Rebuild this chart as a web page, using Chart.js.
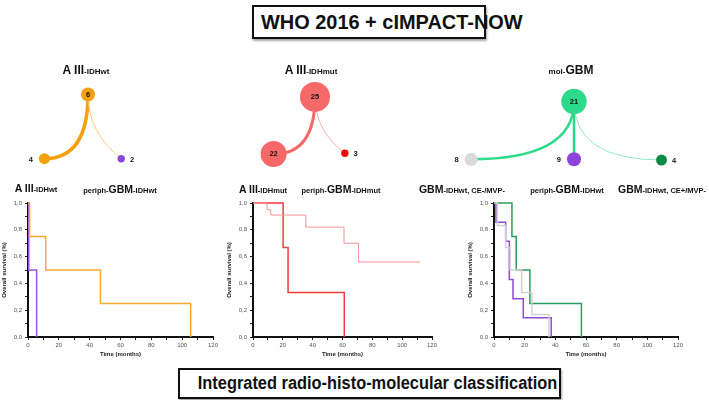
<!DOCTYPE html>
<html lang="en">
<head>
<meta charset="UTF-8">
<title>WHO 2016 + cIMPACT-NOW</title>
<script src="https://cdn.jsdelivr.net/npm/chart.js@4.4.0/dist/chart.umd.min.js"></script>
<style>
    body {
        margin: 0;
        width: 709px;
        height: 400px;
        position: relative;
        overflow: hidden;
        background: #fff;
        font-family: "Liberation Sans", Arial, sans-serif;
        color: #111;
    }
    canvas { position: absolute; }
    .box {
        position: absolute;
        box-sizing: border-box;
        border: 2px solid #111;
        box-shadow: 1px 2px 2px rgba(0,0,0,0.35);
        font-weight: bold;
        text-align: center;
        white-space: nowrap;
        font-family: "Liberation Sans Narrow", "Arial Narrow", "Liberation Sans", sans-serif;
    }
    .box span { display: inline-block; }
    #topBox { left: 252px; top: 5px; width: 234px; height: 34px; font-size: 21px; line-height: 30px; }
    #topBox span { transform: scaleX(0.95); }
    #bottomBox { left: 178px; top: 368px; width: 383px; height: 31px; font-size: 18px; line-height: 27px; }
    #bottomBox span { transform: scaleX(0.91); }
    .lbl {
        position: absolute;
        transform: translate(-50%, -50%);
        white-space: nowrap;
        font-weight: bold;
        z-index: 5;
    }
    .lbl b { font-size: 12px; }
    .lbl span { font-size: 8px; }
    .sub b { font-size: 10.5px; }
    .sub span { font-size: 7.5px; }
</style>
</head>
<body>

<div class="box" id="topBox"><span>WHO 2016 + cIMPACT-NOW</span></div>

<div class="lbl" style="left:86px;top:69px"><b>A III</b><span>-IDHwt</span></div>
<div class="lbl" style="left:311px;top:69px"><b>A III</b><span>-IDHmut</span></div>
<div class="lbl" style="left:571px;top:69px"><span>mol-</span><b>GBM</b></div>

<div class="lbl sub" style="left:36px;top:187px"><b>A III</b><span>-IDHwt</span></div>
<div class="lbl sub" style="left:120px;top:188px"><span>periph-</span><b>GBM</b><span>-IDHwt</span></div>
<div class="lbl sub" style="left:263px;top:188px"><b>A III</b><span>-IDHmut</span></div>
<div class="lbl sub" style="left:341px;top:188px"><span>periph-</span><b>GBM</b><span>-IDHmut</span></div>
<div class="lbl sub" style="left:462px;top:188px"><b>GBM</b><span>-IDHwt, CE-/MVP-</span></div>
<div class="lbl sub" style="left:567px;top:188px"><span>periph-</span><b>GBM</b><span>-IDHwt</span></div>
<div class="lbl sub" style="left:662px;top:188px"><b>GBM</b><span>-IDHwt, CE+/MVP-</span></div>

<canvas id="net1" width="260" height="145" style="left:-42px;top:55px"></canvas>
<canvas id="net2" width="260" height="145" style="left:185px;top:55px"></canvas>
<canvas id="net3" width="260" height="145" style="left:444px;top:55px"></canvas>

<canvas id="km1" width="223" height="165" style="left:0px;top:196px"></canvas>
<canvas id="km2" width="217" height="165" style="left:225px;top:196px"></canvas>
<canvas id="km3" width="222" height="165" style="left:466px;top:196px"></canvas>

<div class="box" id="bottomBox"><span>Integrated radio-histo-molecular classification</span></div>

<script>
// axis ticks
const monthLabels = [0, 20, 40, 60, 80, 100, 120];
const survivalLabels = ['0,0', '0,2', '0,4', '0,6', '0,8', '1,0'];

// Kaplan-Meier steps: time in months, survival fraction after the step
const aIIIwtTime = [0, 1, 11.5, 47, 105.5];
const aIIIwtSurv = [1, 0.75, 0.5, 0.25, 0];
const periphWt1Time = [0, 0.5, 5.6];
const periphWt1Surv = [1, 0.5, 0];

const aIIImutTime = [0, 9.4, 11.9, 35.4, 61, 70.7, 112];
const aIIImutSurv = [1, 0.95, 0.91, 0.82, 0.70, 0.56, 0.56];
const periphMutTime = [0, 20.2, 23.5, 61.2];
const periphMutSurv = [1, 0.667, 0.333, 0];

const ceNegTime = [0, 2.2, 7.6, 10.5, 18, 24.7, 35.8];
const ceNegSurv = [1, 0.833, 0.667, 0.5, 0.333, 0.167, 0];
const periphWt3Time = [0, 1.3, 7.6, 10, 12.4, 19.1, 37.3];
const periphWt3Surv = [1, 0.857, 0.714, 0.429, 0.286, 0.143, 0];
const cePosTime = [0, 11.7, 14.5, 23.4, 57];
const cePosSurv = [1, 0.75, 0.5, 0.25, 0];

// patient counts per node (first one is the parent group)
const net1Counts = [6, 4, 2];
const net2Counts = [25, 22, 3];
const net3Counts = [21, 8, 9, 4];

// node layout (x: -1..1 around the parent, y: 0 bottom .. 1 top)
const net1X = [0, -0.354, 0.27];
const net1Y = [0.752, 0.262, 0.262];
const net2X = [0, -0.36, 0.26];
const net2Y = [0.766, 0.269, 0.276];
const net3X = [0, -0.877, 0, 0.746];
const net3Y = [0.717, 0.234, 0.234, 0.228];

function steps(t, s) {
    return t.map((x, i) => ({ x: x, y: s[i] }));
}

function kmLine(t, s, color, width) {
    return {
        data: steps(t, s),
        borderColor: color,
        borderWidth: width,
        stepped: true,
        fill: false,
        pointRadius: 0,
        clip: false
    };
}

function kmChart(id, datasets) {
    new Chart(document.getElementById(id), {
        type: 'line',
        data: { datasets: datasets },
        options: {
            responsive: false,
            animation: false,
            events: [],
            layout: { padding: { top: 7, right: 10 } },
            plugins: { legend: { display: false }, tooltip: { enabled: false } },
            scales: {
                x: {
                    type: 'linear', min: 0, max: 120,
                    afterFit: s => { s.height = 24; },
                    border: { color: '#111', width: 2 },
                    grid: { drawOnChartArea: false, tickLength: 3, color: '#222' },
                    ticks: {
                        stepSize: 10, autoSkip: false, maxRotation: 0, padding: 2,
                        font: { size: 6 }, color: '#555',
                        callback: v => monthLabels.includes(v) ? String(v) : ''
                    },
                    title: { display: true, text: 'Time (months)', font: { size: 6, weight: 'bold' }, color: '#222', padding: { top: 2, bottom: 3 } }
                },
                y: {
                    min: 0, max: 1,
                    afterFit: s => { s.width = 28; },
                    border: { color: '#111', width: 2 },
                    grid: { drawOnChartArea: false, tickLength: 3, color: '#222' },
                    ticks: {
                        stepSize: 0.1, autoSkip: false, padding: 3,
                        font: { size: 6 }, color: '#555',
                        callback: v => {
                            const k = Math.round(v * 10);
                            return k % 2 === 0 ? survivalLabels[k / 2] : '';
                        }
                    },
                    title: { display: true, text: 'Overall survival (%)', font: { size: 6, weight: 'bold' }, color: '#222', padding: 1 }
                }
            }
        }
    });
}

kmChart('km1', [
    kmLine(aIIIwtTime, aIIIwtSurv, '#FBAA2E', 1.5),
    kmLine(periphWt1Time, periphWt1Surv, '#9A55E0', 1.5)
]);
kmChart('km2', [
    kmLine(aIIImutTime, aIIImutSurv, '#F79494', 1),
    kmLine(periphMutTime, periphMutSurv, '#F23B3B', 1.5)
]);
kmChart('km3', [
    kmLine(ceNegTime, ceNegSurv, '#D2D2D2', 1.5),
    kmLine(periphWt3Time, periphWt3Surv, '#8E4AD9', 1.5),
    kmLine(cePosTime, cePosSurv, '#2B9E5E', 1.5)
]);

// curved edges from the parent node, then the counts
const networkPlugin = {
    id: 'network',
    beforeDatasetsDraw(chart, args, opts) {
        const pts = chart.getDatasetMeta(0).data;
        const ctx = chart.ctx;
        const p = pts[0];
        ctx.save();
        ctx.lineCap = 'round';
        for (let i = 1; i < pts.length; i++) {
            const c = pts[i];
            ctx.beginPath();
            ctx.moveTo(p.x, p.y);
            ctx.quadraticCurveTo(p.x, p.y + opts.bend[i] * (c.y - p.y), c.x, c.y);
            ctx.strokeStyle = opts.edgeColor[i];
            ctx.lineWidth = opts.edgeWidth[i];
            ctx.stroke();
        }
        ctx.restore();
    },
    afterDatasetsDraw(chart, args, opts) {
        const meta = chart.getDatasetMeta(0);
        const ds = chart.data.datasets[0];
        const ctx = chart.ctx;
        ctx.save();
        ctx.font = 'bold 7.5px "Liberation Sans", Arial, sans-serif';
        ctx.fillStyle = '#111';
        ctx.textBaseline = 'middle';
        meta.data.forEach((pt, i) => {
            const r = ds.data[i].r;
            const side = opts.side[i];
            const txt = String(ds.data[i].n);
            if (side === 'in') {
                ctx.textAlign = 'center';
                ctx.fillText(txt, pt.x, pt.y);
            } else if (side === 'left') {
                ctx.textAlign = 'right';
                ctx.fillText(txt, pt.x - r - 6, pt.y + 1);
            } else {
                ctx.textAlign = 'left';
                ctx.fillText(txt, pt.x + r + 5, pt.y + 1);
            }
        });
        ctx.restore();
    }
};

function netChart(id, counts, xs, ys, radii, colors, style) {
    new Chart(document.getElementById(id), {
        type: 'bubble',
        data: {
            datasets: [{
                data: counts.map((n, i) => ({ x: xs[i], y: ys[i], r: radii[i], n: n })),
                backgroundColor: colors,
                borderWidth: 0,
                clip: false
            }]
        },
        options: {
            responsive: false,
            animation: false,
            events: [],
            plugins: { legend: { display: false }, tooltip: { enabled: false }, network: style },
            scales: {
                x: { display: false, min: -1, max: 1 },
                y: { display: false, min: 0, max: 1 }
            }
        },
        plugins: [networkPlugin]
    });
}

netChart('net1', net1Counts, net1X, net1Y, [7, 5.5, 3.7],
    ['#F5A00F', '#F5A00F', '#8B45D9'],
    { bend: [0, 1, 0.6], edgeWidth: [0, 3.5, 1], edgeColor: ['', '#F5A00F', '#FCCB7E'], side: ['in', 'left', 'right'] });

netChart('net2', net2Counts, net2X, net2Y, [15, 13, 3.7],
    ['#F76868', '#F76868', '#F20000'],
    { bend: [0, 1, 0.6], edgeWidth: [0, 3, 1], edgeColor: ['', '#F46A6A', '#F9AAAA'], side: ['in', 'in', 'right'] });

netChart('net3', net3Counts, net3X, net3Y, [12.7, 6.5, 7, 5.5],
    ['#2FD98B', '#DADADA', '#8B45D9', '#0E8A47'],
    { bend: [0, 1, 0, 1], edgeWidth: [0, 2.5, 2.5, 1], edgeColor: ['', '#2FD98B', '#2FD98B', '#93EBC2'], side: ['in', 'left', 'left', 'right'] });
</script>
</body>
</html>
